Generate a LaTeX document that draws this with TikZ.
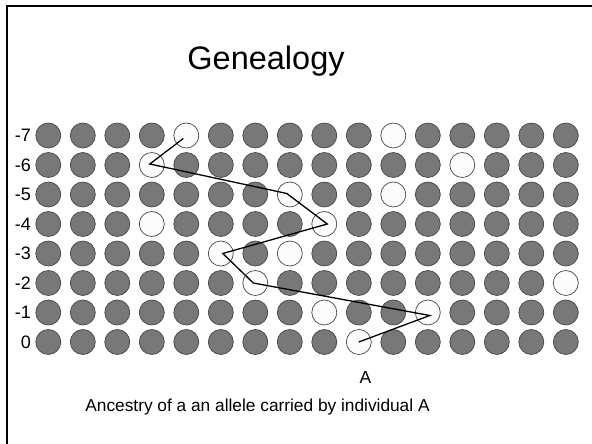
\documentclass[tikz,border=0pt]{standalone}
\usepackage{fontspec}
\setmainfont{Liberation Sans}
\definecolor{balldark}{RGB}{120,120,120}
\definecolor{ballrim}{RGB}{70,70,70}
\definecolor{balllite}{RGB}{252,252,252}
\makeatletter
\newcommand\cellstyle[2]{\edef\mytmp{\noexpand\in@{,#1-#2,}{\whiteset}}\mytmp
  \ifin@\def\mysty{lite}\else\def\mysty{dark}\fi}
\makeatother
\def\whiteset{,7-4,7-10,6-3,6-12,5-7,5-10,4-3,4-8,3-5,3-7,2-6,2-15,1-8,1-11,0-9,}
\begin{document}
\begin{tikzpicture}[x=1pt,y=-1pt,
  dark/.style={circle,minimum size=25pt,inner sep=0pt,fill=balldark,draw=ballrim,line width=0.7pt},
  lite/.style={circle,minimum size=25pt,inner sep=0pt,fill=balllite,draw=ballrim,line width=0.7pt},
  rowlbl/.style={anchor=east,inner sep=0pt,font=\fontsize{18}{21}\selectfont},
  txt/.style={anchor=base,inner sep=0pt},
  trail/.style={draw=black,line width=1.3pt,line join=miter},
  frame/.style={draw=black,line width=2pt}]
\useasboundingbox (0,0) rectangle (592,444);
\draw[frame] (7,444) -- (7,6) -- (592,6);
\node[txt,font=\fontsize{32.5}{38}\selectfont] (title) at (266,70) {Genealogy};
\foreach \r in {0,...,7}{
  \pgfmathsetmacro{\yy}{342-29.5*\r}
  \node[rowlbl] (lbl\r) at (31,\yy) {\ifnum\r=0 0\else -\r\fi};
  \foreach \c in {0,...,15}{
    \pgfmathsetmacro{\xx}{48.3+34.5*\c}
    \cellstyle{\r}{\c}
    \node[\mysty] (n\r-\c) at (\xx,\yy) {};
  }
}
\draw[trail] (n0-9.center) -- ([shift={(2,3)}]n1-11.center) -- ([shift={(-2,0)}]n2-6.center)
  -- ([shift={(2,0)}]n3-5.center) -- ([shift={(3,0)}]n4-8.center) -- ([shift={(-3,-1)}]n5-7.center)
  -- ([shift={(-2,-1)}]n6-3.center) -- ([shift={(-3,3)}]n7-4.center);
\node[txt,font=\fontsize{17.5}{20}\selectfont] (alabel) at (365.5,383) {A};
\node[txt,font=\fontsize{17.3}{20}\selectfont] (caption) at (257.5,411) {Ancestry of a an allele carried by individual A};
\end{tikzpicture}
\end{document}
